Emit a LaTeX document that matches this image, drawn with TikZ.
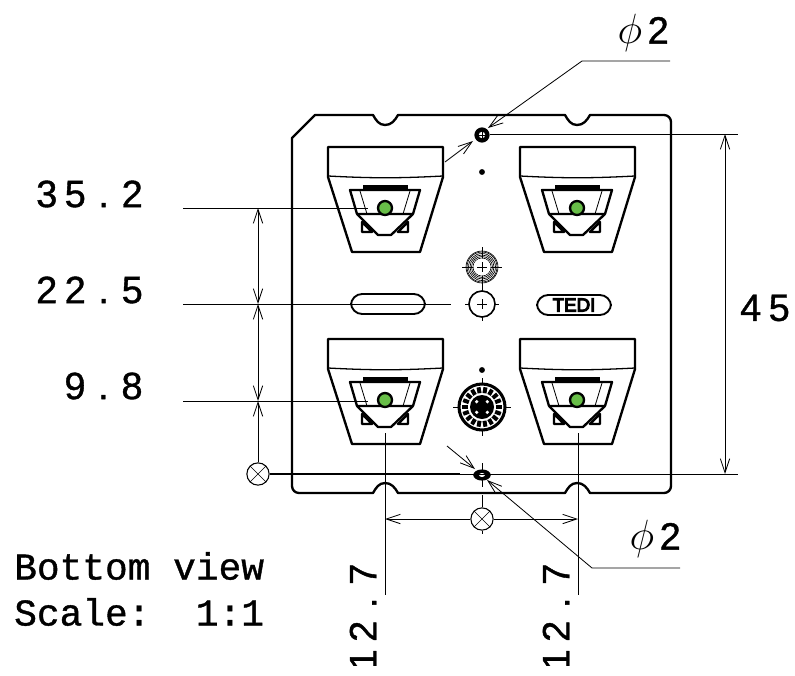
\documentclass[tikz,border=0pt]{standalone}
\usepackage{fontspec}
\setmainfont{Liberation Sans}
\setmonofont[FakeBold=1]{Liberation Mono}
\newfontfamily\logofont[FakeBold=6]{Liberation Sans}
\newfontfamily\dimfont[FakeBold=1]{Liberation Sans}
\usetikzlibrary{arrows.meta,shapes.geometric}
\newcommand{\digitcell}[1]{\makebox[0.855cm]{#1}}
\newcommand{\phicell}{\digitcell{\scalebox{1.45}{$\phi$}}}

\begin{document}
\begin{tikzpicture}[x=0.03cm,y=-0.03cm,
	outline/.style={line width=2pt, line join=round},
	thinline/.style={line width=0.7pt},
	dimline/.style={line width=0.7pt},
	dimtext/.style={font=\dimfont\fontsize{32.5}{32.5}\selectfont, inner sep=0pt},
	notetext/.style={font=\ttfamily\fontsize{32.3}{32.3}\selectfont, inner sep=0pt, anchor=west},
	crossmark/.style={circle, draw, line width=0.9pt, minimum size=19pt, inner sep=0pt}]

	\useasboundingbox (0,0) rectangle (795,675);

	% plate
	\draw [outline] (315,115) -- (373,115) to[out=-60,in=180] (385,125) to[out=0,in=240] (398,115)
		-- (565,115) to[out=-60,in=180] (577,125) to[out=0,in=240] (590,115)
		-- (664,115) to[out=0,in=90] (671,122) -- (671,486) to[out=-90,in=0] (664,493)
		-- (590,493) to[out=120,in=0] (577,483) to[out=180,in=60] (565,493)
		-- (398,493) to[out=120,in=0] (385,483) to[out=180,in=60] (373,493)
		-- (299,493) to[out=180,in=-90] (292,486) -- (292,138) -- cycle;

	% connectors
	\foreach \dx/\dy in {0/0,192/0,0/192,192/192} {
		\begin{scope}[shift={(\dx,\dy)}]
			\draw [outline] (328,177) -- (328,147) -- (443,147) -- (443,177) -- (420,252) -- (352,252) -- cycle;
			\draw [line width=1.1pt] (328,176) to[bend right=3] (443,176);
			\draw [outline] (350,190) -- (420,190) -- (413,214) -- (357,214) -- cycle;
			\draw [line width=3pt] (363,187) -- (408,187);
			\draw [outline] (362,222) -- (362,232) -- (372,232) -- cycle;
			\draw [outline] (408,222) -- (408,232) -- (398,232) -- cycle;
			\draw [outline] (357,214) -- (378,235) -- (391,235) -- (413,214);
			\draw [thinline] (360,191) -- (367,214);
			\draw [thinline] (410,191) -- (403,214);
			\draw [outline, fill={rgb,255:red,104;green,190;blue,72}] (385,208) circle (7);
		\end{scope}
	}

	% holes on the centre line
	\node (topDot) [circle, fill=black, minimum size=5pt, inner sep=0pt] at (482,172) {};
	\node (midDot) [circle, fill=black, minimum size=5pt, inner sep=0pt] at (482,370) {};
	\node (topHole) [circle, fill=black, minimum size=13pt, inner sep=0pt] at (482,135) {};
	\fill [white] (482,135) circle (3.2);
	\draw [line width=0.5pt] (478,135) -- (486,135) (482,131) -- (482,139);
	\draw [thinline] (482,463) -- (482,487);
	\node (botHole) [ellipse, fill=black, minimum width=15pt, minimum height=9.5pt, inner sep=0pt] at (482,475) {};
	\fill [white] (482,475) ellipse (3 and 2);

	% ring
	\foreach \r in {9,10.5,12,13.5,15,16} {
		\draw [line width=0.55pt] (482,267) circle (\r);
	}
	\draw [thinline] (462,267) -- (502,267) (482,247) -- (482,287);
	\fill [white] (482,267) circle (8.5);
	\draw [thinline] (477,267) -- (487,267) (482,262) -- (482,272);

	% plain hole
	\draw [thinline] (465,304) -- (499,304) (482,287) -- (482,321);
	\draw [line width=1.4pt, fill=white] (482,304) circle (13);
	\draw [thinline] (477,304) -- (487,304) (482,299) -- (482,309);

	% dial
	\draw [thinline] (453,407) -- (511,407) (482,378) -- (482,436);
	\draw [line width=2.6pt, fill=white] (482,407) circle (23);
	\foreach \a in {0,20,...,340} {
		\draw [line width=3.4pt] (482,407) ++(\a:14) -- ++(\a:6);
	}
	\fill (482,407) circle (12);
	\foreach \a in {45,135,225,315} {
		\fill [white] (482,407) ++(\a:7.5) circle (1.8);
	}

	% oblong and logo
	\draw [line width=1.6pt, rounded corners=9.5pt] (351,294) rectangle (425,314);
	\draw [line width=1.6pt, rounded corners=9.5pt] (537,295) rectangle (611,315);
	\node (logo) [font=\logofont\fontsize{16}{16}\selectfont, inner sep=0pt] at (574,305) {TEDI};

	% labels
	\node (labA) [dimtext] at (89.5,194) {\digitcell{3}\digitcell{5}\digitcell{.}\digitcell{2}};
	\node (labB) [dimtext] at (89.5,290) {\digitcell{2}\digitcell{2}\digitcell{.}\digitcell{5}};
	\node (labC) [dimtext] at (103.5,386) {\digitcell{9}\digitcell{.}\digitcell{8}};
	\node (labD) [dimtext] at (765,308) {\digitcell{4}\digitcell{5}};
	\node (labE) [dimtext] at (644,33) {\phicell\digitcell{2}};
	\node (labF) [dimtext] at (656,539) {\phicell\digitcell{2}};
	\node (noteA) [notetext] at (14,566) {Bottom view};
	\node (noteB) [notetext] at (14,612) {Scale:\ \ 1:1};
	\begin{scope}
		\clip (300,540) rectangle (620,665);
		\node (labG) [dimtext, rotate=90] at (363,617) {\digitcell{1}\digitcell{2}\digitcell{.}\digitcell{7}};
		\node (labH) [dimtext, rotate=90] at (556,617) {\digitcell{1}\digitcell{2}\digitcell{.}\digitcell{7}};
	\end{scope}

	% ends of the dimension lines
	\coordinate (a1) at (183,208);
	\coordinate (a2) at (368,208);
	\coordinate (b1) at (183,304);
	\coordinate (b2) at (451,304);
	\coordinate (c1) at (183,401);
	\coordinate (c2) at (368,401);
	\coordinate (d1) at (258,208);
	\coordinate (d2) at (258,304);
	\coordinate (d3) at (258,401);
	\coordinate (e1) at (490,134);
	\coordinate (e2) at (738,134);
	\coordinate (f1) at (725,134);
	\coordinate (f2) at (725,474);
	\coordinate (g1) at (460,474);
	\coordinate (g2) at (738,474);
	\coordinate (h1) at (385,433);
	\coordinate (h2) at (385,595);
	\coordinate (i1) at (578,433);
	\coordinate (i2) at (578,595);
	\coordinate (j1) at (385,519);
	\coordinate (j2) at (578,519);
	\coordinate (k1) at (670,61);
	\coordinate (k2) at (582,61);
	\coordinate (k3) at (488,128);
	\coordinate (l1) at (445,162);
	\coordinate (l2) at (473,141);
	\coordinate (m1) at (680,568);
	\coordinate (m2) at (592,568);
	\coordinate (m3) at (487,480);
	\coordinate (n1) at (447,446);
	\coordinate (n2) at (475,469);
	\coordinate (o1) at (482,495);
	\coordinate (o2) at (482,534);

	\node (crossL) [crossmark] at (258,474) {};
	\node (crossB) [crossmark] at (482,519) {};
	\draw (crossL.north west) -- (crossL.south east) (crossL.north east) -- (crossL.south west);
	\draw (crossB.north west) -- (crossB.south east) (crossB.north east) -- (crossB.south west);

	\draw [dimline] (a1) -- (a2);
	\draw [dimline] (b1) -- (b2);
	\draw [dimline] (c1) -- (c2);
	\draw [dimline, {Straight Barb[length=12pt,width=8pt]}-{Straight Barb[length=12pt,width=8pt]}] (d1) -- (d2);
	\draw [dimline, {Straight Barb[length=12pt,width=8pt]}-{Straight Barb[length=12pt,width=8pt]}] (d2) -- (d3);
	\draw [dimline, {Straight Barb[length=12pt,width=8pt]}-] (d3) -- (crossL);
	\draw [line width=1.2pt] (crossL) -- (g1);
	\draw [dimline] (g1) -- (g2);
	\draw [dimline] (e1) -- (e2);
	\draw [dimline, {Straight Barb[length=12pt,width=8pt]}-{Straight Barb[length=12pt,width=8pt]}] (f1) -- (f2);
	\draw [dimline] (h1) -- (h2);
	\draw [dimline] (i1) -- (i2);
	\draw [dimline, {Straight Barb[length=12pt,width=8pt]}-] (j1) -- (crossB);
	\draw [dimline, -{Straight Barb[length=12pt,width=8pt]}] (crossB) -- (j2);
	\draw [dimline] (o1) -- (crossB) -- (o2);
	\draw [dimline, -{Straight Barb[length=12pt,width=8pt]}] (k1) -- (k2) -- (k3);
	\draw [dimline, -{Straight Barb[length=12pt,width=8pt]}] (l1) -- (l2);
	\draw [dimline, -{Straight Barb[length=12pt,width=8pt]}] (m1) -- (m2) -- (m3);
	\draw [dimline, -{Straight Barb[length=12pt,width=8pt]}] (n1) -- (n2);

\end{tikzpicture}
\end{document}
